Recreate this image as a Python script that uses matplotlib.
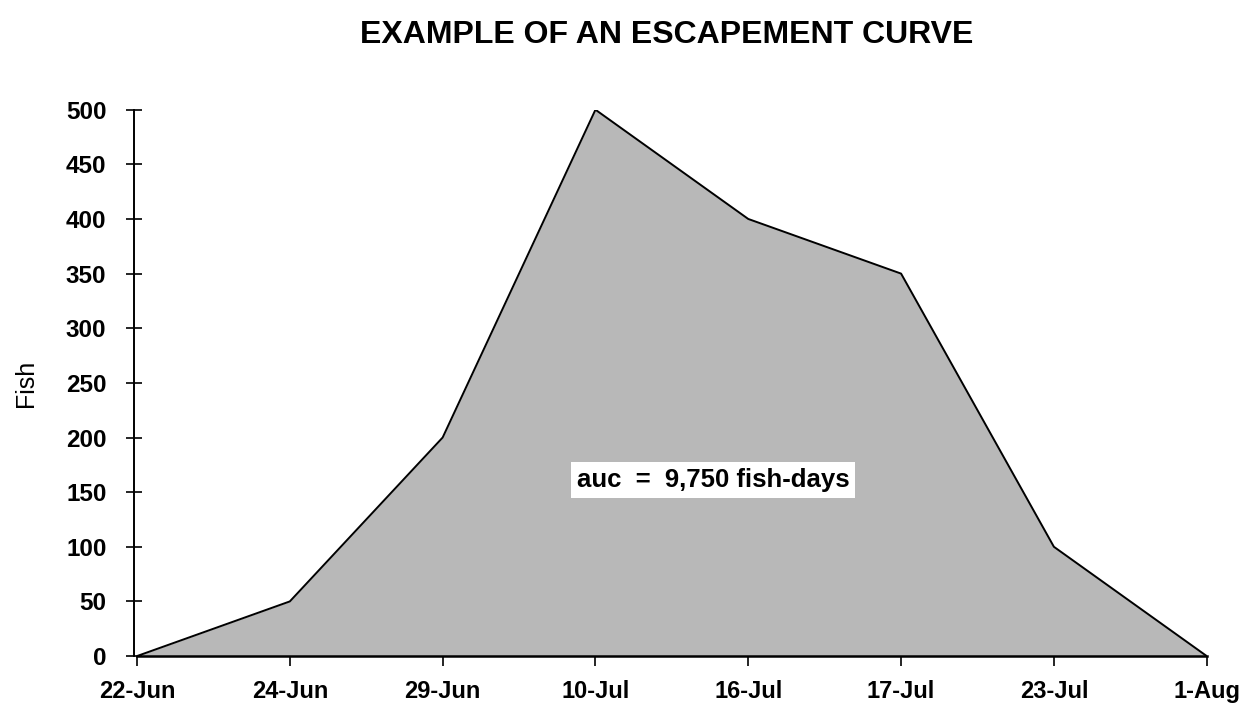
import matplotlib
matplotlib.use('Agg')
from matplotlib import pyplot as plt
import numpy as np

plt.rcParams['font.family'] = ['Liberation Sans', 'DejaVu Sans']

dates = ['22-Jun', '24-Jun', '29-Jun', '10-Jul', '16-Jul', '17-Jul', '23-Jul', '1-Aug']
fish = [0, 50, 200, 500, 400, 350, 100, 0]
yticks = [0, 50, 100, 150, 200, 250, 300, 350, 400, 450, 500]

x = np.arange(len(dates))

fig = plt.figure(figsize=(12.57, 7.17), dpi=100)
ax = fig.add_axes([0.109, 0.085, 0.851, 0.762])

ax.fill_between(x, fish, 0, color='#b8b8b8', linewidth=0)
ax.plot(x, fish, color='black', linewidth=1.4)

for s in ['top', 'right']:
    ax.spines[s].set_visible(False)
ax.spines['left'].set_linewidth(1.4)
ax.spines['bottom'].set_linewidth(1.8)
ax.spines['left'].set_position(('outward', 2))

ax.set_xlim(0, len(dates) - 1)
ax.set_ylim(0, 500)
ax.set_xticks(x)
ax.set_xticklabels(dates, fontsize=17, fontweight='bold')
ax.set_yticks(yticks)
ax.set_yticklabels([str(v) for v in yticks], fontsize=17.5, fontweight='bold')
ax.tick_params(axis='y', direction='inout', length=12, width=1.2, pad=14)
ax.tick_params(axis='x', direction='out', length=7, width=1.2, pad=10)

ax.set_ylabel('Fish', fontsize=18, labelpad=20)
fig.suptitle('EXAMPLE OF AN ESCAPEMENT CURVE', fontsize=23, fontweight='bold', y=0.972, x=0.53)

ax.text(3.77, 161, 'auc  =  9,750 fish-days', fontsize=18.5, fontweight='bold',
        ha='center', va='center',
        bbox=dict(facecolor='white', edgecolor='none', pad=4))

fig.savefig('out.png')
